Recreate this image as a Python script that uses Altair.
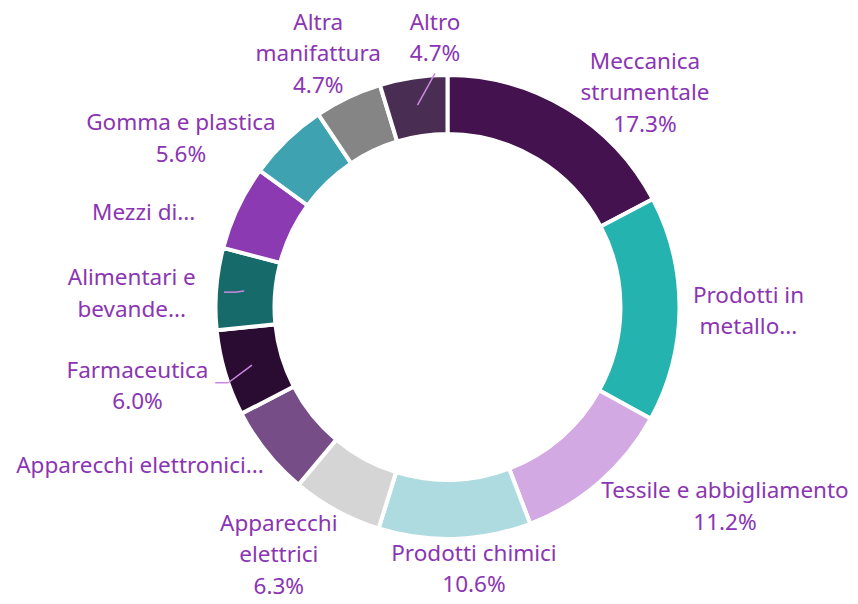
import math
import altair as alt
import pandas as pd

# ---- data ----
categories = [
    "Meccanica strumentale", "Prodotti in metallo", "Tessile e abbigliamento",
    "Prodotti chimici", "Apparecchi elettrici", "Apparecchi elettronici",
    "Farmaceutica", "Alimentari e bevande", "Mezzi di trasporto",
    "Gomma e plastica", "Altra manifattura", "Altro",
]
values = [17.3, 15.7, 11.2, 10.6, 6.3, 6.3, 6.0, 5.7, 5.9, 5.6, 4.7, 4.7]
label_lines = [
    ["Meccanica", "strumentale", "17.3%"],
    ["Prodotti in", "metallo..."],
    ["Tessile e abbigliamento", "11.2%"],
    ["Prodotti chimici", "10.6%"],
    ["Apparecchi", "elettrici", "6.3%"],
    ["Apparecchi elettronici..."],
    ["Farmaceutica", "6.0%"],
    ["Alimentari e", "bevande..."],
    ["Mezzi di..."],
    ["Gomma e plastica", "5.6%"],
    ["Altra", "manifattura", "4.7%"],
    ["Altro", "4.7%"],
]
colors = ["#44124F", "#25B3B0", "#D3A9E3", "#ADDBE0", "#D5D5D5", "#774D88",
          "#2A0C32", "#176A6A", "#8C3AB2", "#3FA2B0", "#858585", "#4A2D52"]

# ---- label layout (angle nudge in degrees, distance from centre in px) ----
label_nudge = [11.6, 0.3, -13.2, -3.95, 5.6, 11.4, 2.2, -2.1, -8.2, -13.9, -1.7, 5.8]
label_dist = [291, 301, 342, 264, 300, 346, 320, 316, 318, 315, 284, 269]

# leader lines that show in the reference: (category index, angle turn, outer radius, horizontal run)
leaders = [(11, 5.4, 234, 0), (7, -0.5, 213, -11), (6, -2.5, 232, -13)]
LEADER_R0 = 204

LH = 31.5
CX, CY = 439.5, 299

total = sum(values)
cum = 0.0
mids = []
for v in values:
    mids.append((cum + v / 2) / total * 360)
    cum += v

df = pd.DataFrame({
    "cat": categories,
    "value": values,
    "idx": list(range(len(categories))),
    "label": ["\n".join(l) for l in label_lines],
    "nlines": [len(l) for l in label_lines],
    "la": [m + n for m, n in zip(mids, label_nudge)],
    "lr": label_dist,
})


def polar(angle_deg, r):
    a = math.radians(angle_deg)
    return CX + r * math.sin(a), CY - r * math.cos(a)


segs = []
for i, turn, r1, run in leaders:
    x0, y0 = polar(mids[i], LEADER_R0)
    x1, y1 = polar(mids[i] + turn, r1)
    segs.append({"x": x0, "y": y0, "x2": x1, "y2": y1})
    if run:
        segs.append({"x": x1, "y": y1, "x2": x1 + run, "y2": y1})
seg_df = pd.DataFrame(segs)

base = alt.Chart(df)

ring = base.mark_arc(
    outerRadius=232, innerRadius=173, stroke="white", strokeWidth=4
).encode(
    x=alt.value(CX), y=alt.value(CY),
    theta=alt.Theta("value:Q", stack=True),
    order=alt.Order("idx:Q", sort="ascending"),
    color=alt.Color("cat:N", scale=alt.Scale(domain=categories, range=colors), legend=None),
)

lead = alt.Chart(seg_df).mark_rule(color="#CC88E0", strokeWidth=1.5).encode(
    x=alt.X("x:Q", scale=None), y=alt.Y("y:Q", scale=None),
    x2="x2:Q", y2="y2:Q",
)

text_layers = []
for n in (1, 2, 3):
    text_layers.append(
        base.transform_filter(alt.datum.nlines == n).mark_text(
            font="Noto Sans", fontSize=22.5, color="#8B35B2", lineBreak="\n",
            lineHeight=LH, align="center", baseline="middle", dy=-(n - 1) * LH / 2,
        ).encode(
            x=alt.value(CX), y=alt.value(CY),
            theta=alt.Theta("la:Q", stack=None,
                            scale=alt.Scale(domain=[0, 360], range=[0, 2 * math.pi])),
            radius=alt.Radius("lr:Q", scale=None),
            text="label:N",
        )
    )

chart = alt.layer(ring, lead, *text_layers).resolve_scale(theta="independent").properties(
    width=842, height=588, padding=0, autosize=alt.AutoSizeParams(type="none"),
).configure_view(stroke=None)

chart.save("out.html", embed_options={"renderer": "svg", "actions": False})
